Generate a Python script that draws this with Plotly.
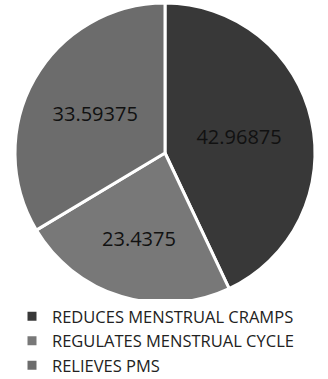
import plotly.graph_objects as go

categories = ["REDUCES MENSTRUAL CRAMPS", "REGULATES MENSTRUAL CYCLE", "RELIEVES PMS"]
values = [42.96875, 23.4375, 33.59375]
labels_text = [str(v) for v in values]
colors = ["#383838", "#787878", "#6c6c6c"]

W, H = 328, 379
fig = go.Figure(go.Pie(
    labels=categories,
    values=values,
    text=labels_text,
    textinfo="text",
    textposition="inside",
    insidetextorientation="horizontal",
    textfont=dict(family="Open Sans", size=20, color="#111111"),
    marker=dict(colors=colors, line=dict(color="white", width=3)),
    sort=False,
    direction="clockwise",
    rotation=0,
    domain=dict(x=[15 / W, 315 / W], y=[1 - 303 / H, 1 - 3 / H]),
    hoverinfo="skip",
))
fig.update_layout(
    width=W, height=H,
    margin=dict(l=0, r=0, t=0, b=0, autoexpand=False),
    paper_bgcolor="white",
    showlegend=True,
    legend=dict(
        x=12 / W, xanchor="left", y=1 - 299 / H, yanchor="top",
        font=dict(family="Open Sans", size=16.5, color="#222222"),
        itemwidth=30, tracegroupgap=0,
    ),
)
fig.write_html("out.html")
